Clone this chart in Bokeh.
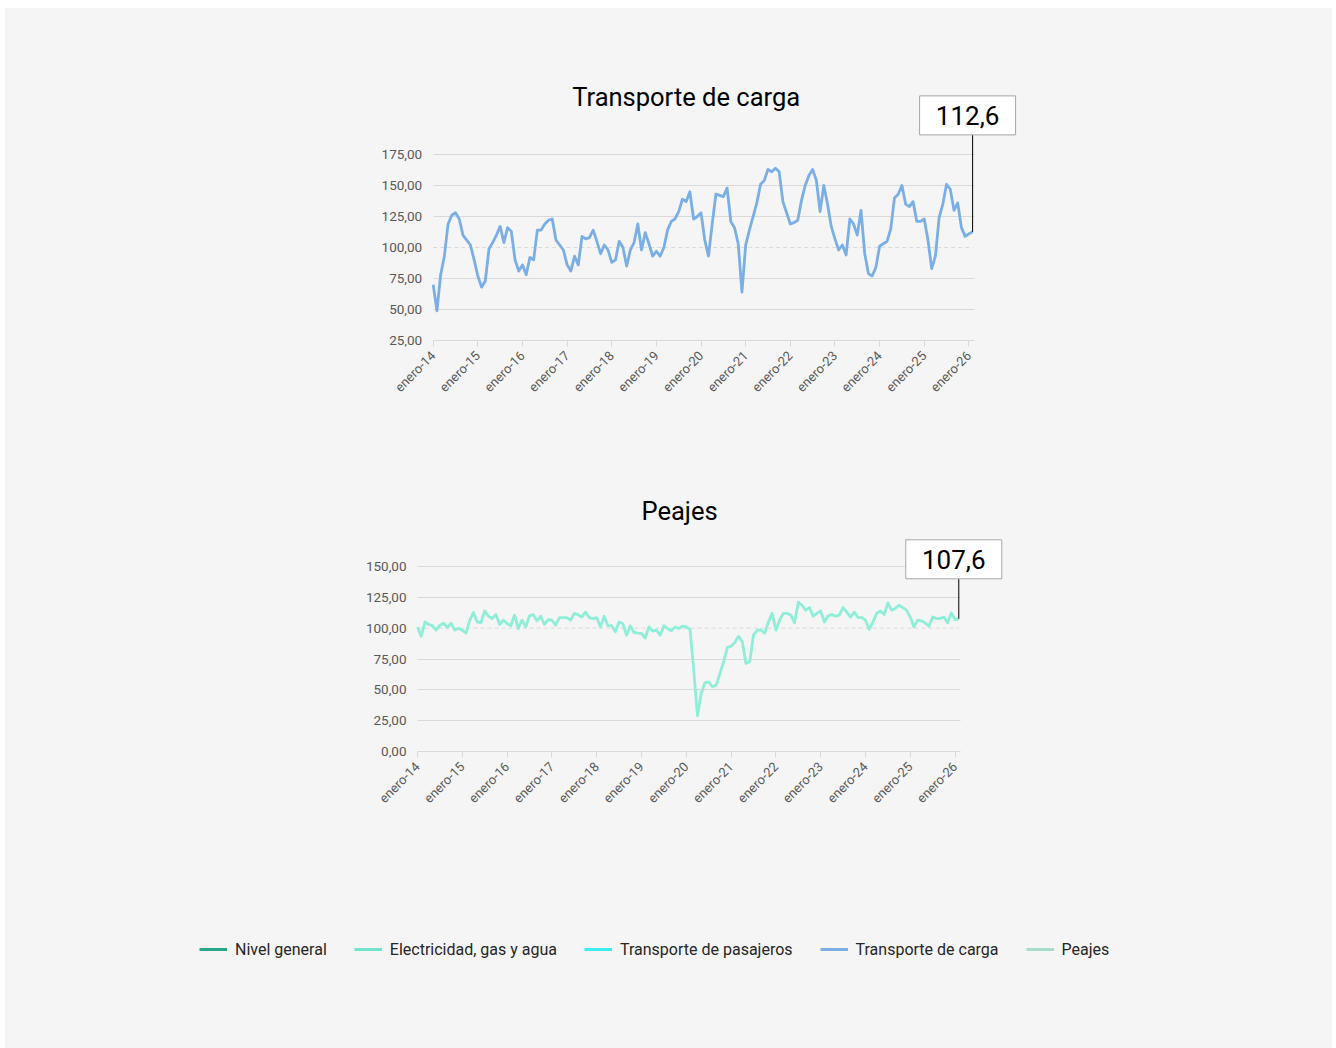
import math
from bokeh.plotting import figure
from bokeh.models import FixedTicker, Label, Legend, LegendItem, Range1d
from bokeh.layouts import column
from bokeh.core.properties import value
from bokeh.embed import file_html
from bokeh.resources import INLINE

# ---------------- data ----------------
MONTHS = list(range(146))  # enero-14 ... febrero-26 (month index)
TICK_MONTHS = [0, 12, 24, 36, 48, 60, 72, 84, 96, 108, 120, 132, 144]
TICK_LABELS = ["enero-14", "enero-15", "enero-16", "enero-17", "enero-18", "enero-19",
               "enero-20", "enero-21", "enero-22", "enero-23", "enero-24", "enero-25", "enero-26"]

CARGA = [70, 49, 78, 93, 119, 126, 128, 123, 110, 106, 102, 90,
         77, 68, 73, 99, 104, 110, 117, 104, 116, 113, 90, 81,
         86, 78, 92, 90, 114, 114, 119, 122, 123, 106, 102, 98,
         86, 81, 93, 86, 109, 107, 108, 114, 105, 95, 102, 98,
         88, 90, 105, 100, 85, 98, 104, 119, 98, 112, 103, 93,
         97, 93, 100, 114, 121, 123, 129, 139, 137, 145, 123, 125,
         128, 106, 93, 119, 143, 142, 141, 148, 121, 116, 103, 64,
         102, 114, 125, 136, 151, 154, 163, 161, 164, 161, 137, 128,
         119, 120, 122, 138, 150, 158, 163, 154, 129, 150, 135, 117,
         107, 98, 102, 94, 123, 119, 110, 130, 95, 79, 77, 84,
         101, 103, 105, 115, 140, 143, 150, 135, 133, 137, 121, 121,
         123, 106, 83, 93, 124, 135, 151, 147, 130, 136, 116, 109,
         111, 112.6]

PEAJES = [101, 93.5, 105, 103, 102, 98.4, 102.4, 104, 100.5, 104, 98.4, 100,
          98.4, 96, 106.5, 112.7, 105, 104.6, 114, 109.7, 107.8, 111, 103, 106.5,
          103.8, 102, 110.5, 99.7, 106.5, 101, 110, 111, 106, 109.7, 103, 107,
          106.5, 102.4, 108.6, 108.6, 108.6, 106.5, 112, 111, 109, 113, 108.6, 107.8,
          108.6, 101, 109.7, 102, 102, 97, 105, 103.8, 94.3, 102, 96.5, 96,
          95.7, 92, 101, 97.6, 98.4, 94.3, 102, 99.7, 97.8, 101, 99.7, 101.6,
          101, 99, 66, 29, 47, 55.7, 56.5, 52.5, 53.6, 63, 72.7, 84.3,
          85.4, 88.4, 93.5, 89, 71.4, 72.7, 94.3, 98.4, 98.4, 96, 105, 112,
          98.4, 106.5, 112, 112, 110.5, 104.3, 121, 118.6, 114.6, 116.7, 109.7, 111.9,
          114, 105, 110, 111, 109.7, 110.5, 116.7, 113, 109, 113, 108.6, 108.6,
          106.5, 99, 105, 111.9, 114, 111, 120.5, 114.6, 116, 118.6, 116.7, 114.6,
          109, 101, 106.5, 106, 104.3, 101.6, 109, 107.8, 107.8, 109, 104.3, 112.4,
          107, 107.6]

BASE_100 = [100] * len(MONTHS)

CARGA_Y_TICKS = [25, 50, 75, 100, 125, 150, 175]
PEAJES_Y_TICKS = [0, 25, 50, 75, 100, 125, 150]
CARGA_CALLOUT = "112,6"
PEAJES_CALLOUT = "107,6"

LEGEND_LABELS = ["Nivel general", "Electricidad, gas y agua", "Transporte de pasajeros",
                 "Transporte de carga", "Peajes"]
LEGEND_COLORS = ["#2aa68b", "#74e3cb", "#3debf2", "#7aaee6", "#a4dcc8"]

# ---------------- style / layout ----------------
BG = "#f5f5f5"
GRID = "#d9d9d9"
LABEL_C = "#595959"
FONT = "Roboto"
ORIGIN_X = 5          # page x of the figures' left edge
MB_LEFT = 100         # same left border for all plots (column aligns frames)
FRAME_W = 1227
FRAME_LEFT = ORIGIN_X + MB_LEFT
AXIS_GAP = 6          # px between the lowest gridline and the frame bottom


def fmt(v):
    return f"{v:.2f}".replace(".", ",")


def make_chart(title, series, color, yticks, y0, px_per_unit, px_per_month, tick0_px,
               mb_top, mb_bottom, frame_h, title_xy, callout_text, rise_px, box_dx_px):
    x0 = -(tick0_px - FRAME_LEFT) / px_per_month
    x1 = x0 + FRAME_W / px_per_month
    ys = y0 - AXIS_GAP / px_per_unit
    ye = ys + frame_h / px_per_unit
    p = figure(frame_width=FRAME_W, frame_height=frame_h,
               x_range=Range1d(x0, x1), y_range=Range1d(ys, ye),
               output_backend="svg", toolbar_location=None,
               min_border_left=MB_LEFT, min_border_right=0,
               min_border_top=mb_top, min_border_bottom=mb_bottom,
               background_fill_color=BG, border_fill_color=BG,
               outline_line_color=None)
    last = MONTHS[-1]
    # x axis (its line is the lowest gridline; ticks reach up to it)
    xa = p.xaxis[0]
    xa.ticker = FixedTicker(ticks=TICK_MONTHS)
    xa.major_label_overrides = {m: l for m, l in zip(TICK_MONTHS, TICK_LABELS)}
    xa.bounds = (0, last + 0.5)
    xa.axis_line_color = None
    xa.major_tick_line_color = GRID
    xa.minor_tick_line_color = None
    xa.major_tick_in = AXIS_GAP
    xa.major_tick_out = 0
    xa.major_label_orientation = math.pi / 4
    xa.major_label_text_font = FONT
    xa.major_label_text_font_size = "13px"
    xa.major_label_text_color = LABEL_C
    xa.major_label_standoff = 7
    # y axis, drawn at the first month
    ya = p.yaxis[0]
    ya.fixed_location = 0
    ya.ticker = FixedTicker(ticks=yticks)
    ya.major_label_overrides = {t: fmt(t) for t in yticks}
    ya.axis_line_color = None
    ya.major_tick_line_color = None
    ya.minor_tick_line_color = None
    ya.major_tick_in = 0
    ya.major_tick_out = 0
    ya.major_label_text_font = FONT
    ya.major_label_text_font_size = "13.5px"
    ya.major_label_text_color = LABEL_C
    ya.major_label_standoff = 11
    # grid
    p.xgrid.visible = False
    p.ygrid.ticker = FixedTicker(ticks=[t for t in yticks if t != 100])
    p.ygrid.grid_line_color = GRID
    p.ygrid.cross_bounds = (0, last + 0.5)
    # base 100 dashed line
    p.line(MONTHS, BASE_100, line_color=GRID, line_width=1, line_dash="4 3")
    # series
    p.line(MONTHS, series, line_color=color, line_width=2.8, line_join="round")
    # callout
    v_last = series[-1]
    box_bottom = v_last + rise_px / px_per_unit
    box_cy = box_bottom + 19.5 / px_per_unit
    box_cx = last + box_dx_px / px_per_month
    p.segment(x0=[last], y0=[v_last], x1=[last], y1=[box_bottom],
              line_color="#000000", line_width=1)
    p.rect(x=[box_cx], y=[box_cy], width=96, height=39,
           width_units="screen", height_units="screen",
           fill_color="#ffffff", line_color="#a6a6a6", line_width=1)
    p.text(x=[box_cx], y=[box_cy], text=[callout_text], text_font=value(FONT),
           text_font_size="26px", text_align="center", text_baseline="middle",
           text_color="#000000")
    # title
    p.add_layout(Label(x=title_xy[0], y=title_xy[1], text=title, text_font=FONT,
                       text_font_size="25.5px", text_align="center",
                       text_baseline="middle", text_color="#000000"))
    return p


p1 = make_chart("Transporte de carga", CARGA, "#7aaee6", CARGA_Y_TICKS, 25, 1.24, 3.72, 432.7,
                70, 94, 268, (68.0, 221.0), CARGA_CALLOUT, 97, -5)
p2 = make_chart("Peajes", PEAJES, "#8eeed8", PEAJES_Y_TICKS, 0, 185 / 150, 3.733, 417.0,
                49, 93, 268, (70.2, 195.4), PEAJES_CALLOUT, 40, -5)

# legend figure (same horizontal borders as the charts)
p3 = figure(frame_width=FRAME_W, frame_height=198, output_backend="svg",
            toolbar_location=None, x_axis_location=None, y_axis_location=None,
            min_border_left=MB_LEFT, min_border_right=0, min_border_top=0,
            min_border_bottom=0,
            background_fill_color=BG, border_fill_color=BG, outline_line_color=None)
p3.grid.visible = False
items = []
for lab, col in zip(LEGEND_LABELS, LEGEND_COLORS):
    r = p3.line(x=[0], y=[0], line_color=col, line_width=3)
    items.append(LegendItem(label=lab, renderers=[r]))
leg = Legend(items=items, orientation="horizontal", location=(199 - FRAME_LEFT, 89),
             background_fill_alpha=0, border_line_color=None,
             padding=0, margin=0, spacing=27, glyph_width=28, glyph_height=20,
             label_standoff=8, label_text_font=FONT, label_text_font_size="16px",
             label_text_color="#262626")
p3.add_layout(leg)

layout = column(p1, p2, p3, spacing=0, margin=(8, 0, 0, ORIGIN_X),
                styles={"background-color": BG})
open("out.html", "w").write(file_html(layout, INLINE))
